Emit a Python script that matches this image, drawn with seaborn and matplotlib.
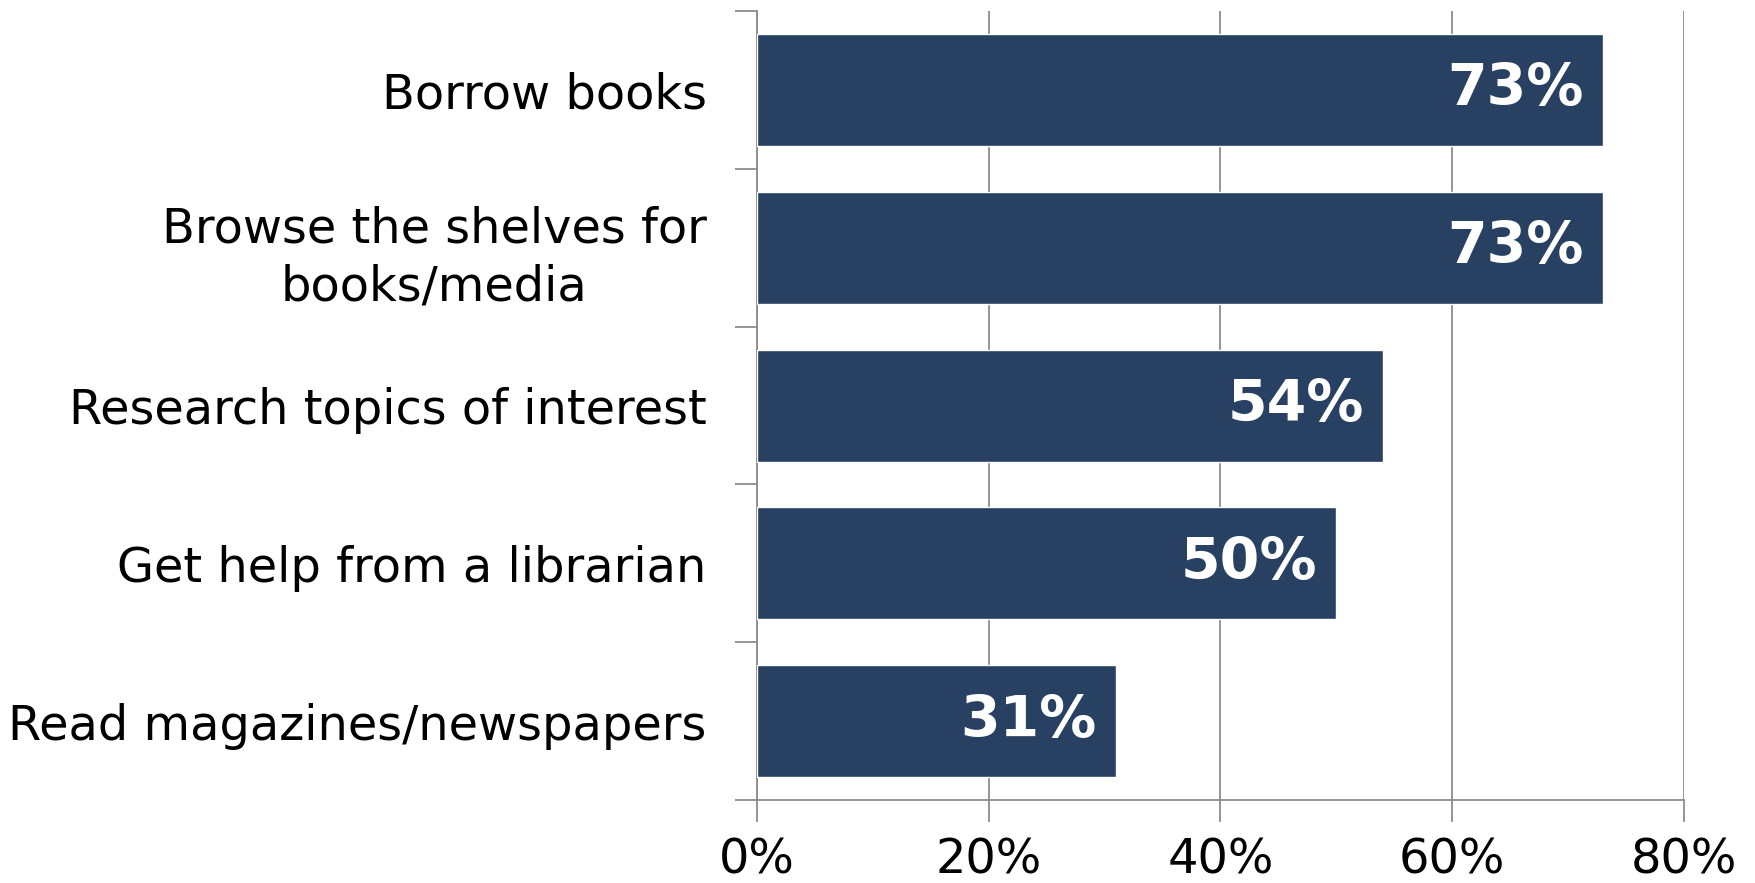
import matplotlib
matplotlib.use("Agg")
import matplotlib.pyplot as plt
from matplotlib.ticker import FixedLocator, PercentFormatter
import seaborn as sns
import pandas as pd

activities = ["Borrow books",
              "Browse the shelves for\nbooks/media",
              "Research topics of interest",
              "Get help from a librarian",
              "Read magazines/newspapers"]
shares = [0.73, 0.73, 0.54, 0.50, 0.31]

df = pd.DataFrame({"Activity": activities, "Share": shares})

sns.set_style("white")
plt.rcParams['font.family'] = ['DejaVu Sans']

fig = plt.figure(figsize=(17.56, 8.83), dpi=100)
ax = fig.add_axes([0.431, 0.094, 0.528, 0.8935])

bar_color = "#284062"
grid_color = "#8c8c8c"

sns.barplot(data=df, x="Share", y="Activity", orient="h", color=bar_color,
            width=0.71, saturation=1, ax=ax, zorder=3)

ax.set_xlim(0, 0.8)
ax.set_ylim(4.5, -0.5)
ax.set_xlabel("")
ax.set_ylabel("")

# x axis: gridlines + ticks hanging below the axis
ax.set_xticks([0, 0.2, 0.4, 0.6, 0.8])
ax.xaxis.set_major_formatter(PercentFormatter(1.0, decimals=0))
ax.xaxis.grid(True, color=grid_color, linewidth=1.3, zorder=0)
ax.tick_params(axis="x", length=16, width=1.3, color=grid_color,
               labelsize=34.5, labelcolor="black", pad=10, direction="out",
               bottom=True)

# y axis: labels at the centre, tick marks at the category boundaries
ax.tick_params(axis="y", which="major", length=0, labelsize=34.5,
               labelcolor="black", pad=36)
ax.yaxis.set_minor_locator(FixedLocator([-0.5, 0.5, 1.5, 2.5, 3.5, 4.5]))
ax.tick_params(axis="y", which="minor", length=16, width=1.3,
               color=grid_color, direction="out", left=True)
for lbl in ax.get_yticklabels():
    lbl.set_horizontalalignment("right")
    lbl.set_multialignment("center")
    lbl.set_linespacing(1.28)

for side in ["top", "right"]:
    ax.spines[side].set_visible(False)
for side in ["left", "bottom"]:
    ax.spines[side].set_color(grid_color)
    ax.spines[side].set_linewidth(1.3)

# value labels inside bar ends
for i, v in enumerate(shares):
    ax.text(v - 0.0165, i, f"{v:.0%}", ha="right", va="center",
            color="white", fontsize=41, fontweight="bold", zorder=4)

fig.savefig("out.png", dpi=100)
